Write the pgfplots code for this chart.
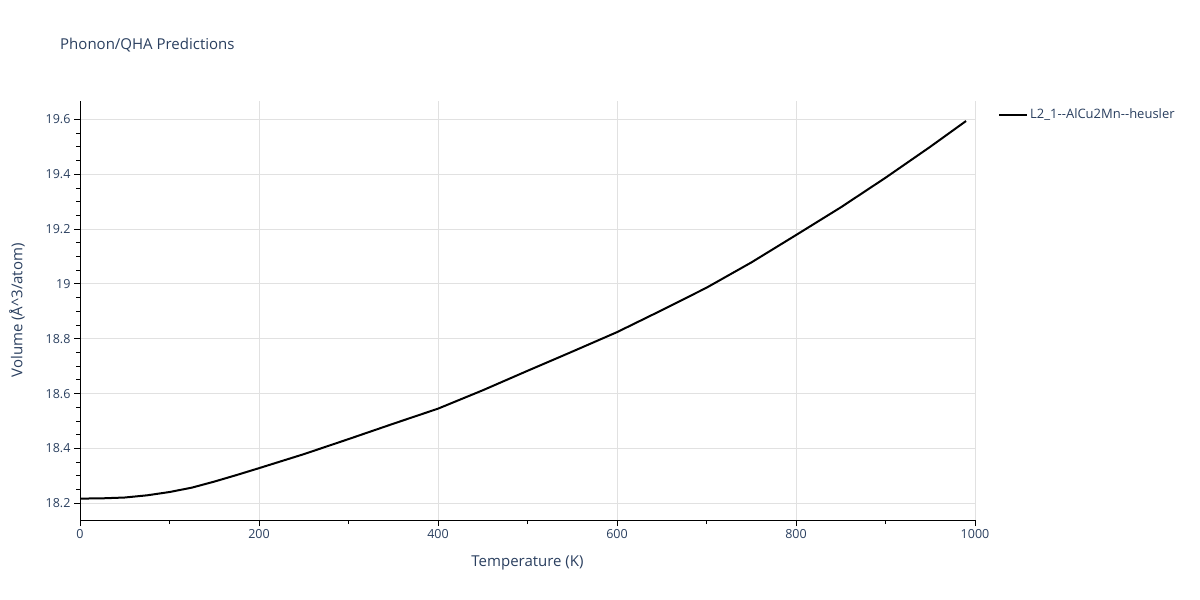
\documentclass[border=0pt]{standalone}
\usepackage{fontspec}
\setmainfont{Open Sans}
\usepackage{pgfplots}
\pgfplotsset{compat=1.18}
\definecolor{plotlytext}{HTML}{2A3F5F}
\definecolor{plotlygrid}{HTML}{E1E1E1}

\begin{document}
\begin{tikzpicture}
\useasboundingbox (0,0) rectangle (1200pt,600pt);
\node[anchor=west, text=plotlytext, font=\fontsize{15}{17}\selectfont, inner sep=0pt]
  at (60pt,555pt) {Phonon/QHA Predictions};

\begin{axis}[
    at={(80pt,80pt)}, anchor=south west,
    width=895pt, height=419.3pt, scale only axis,
    xmin=0, xmax=1000, ymin=18.139, ymax=19.668,
    xtick={0,200,400,600,800,1000},
    ytick={18.2,18.4,18.6,18.8,19,19.2,19.4,19.6},
    minor x tick num=1, minor y tick num=3,
    axis x line*=bottom, axis y line*=left,
    axis line style={black, line width=1pt, -},
    tick align=outside, major tick length=6pt, minor tick length=4pt,
    tick style={black, line width=0.8pt},
    grid=major, major grid style={plotlygrid, line width=1pt},
    ticklabel style={font=\fontsize{12.5}{14}\selectfont, text=plotlytext},
    /pgf/number format/assume math mode=true,
    /pgf/number format/1000 sep={},
    scaled ticks=false,
    xlabel={Temperature (K)},
    ylabel={Volume (Å\textasciicircum 3/atom)},
    label style={font=\fontsize{15}{17}\selectfont, text=plotlytext},
    xlabel style={at={(rel axis cs:0.5,-0.1025)}, anchor=center},
    ylabel style={at={(rel axis cs:-0.0704,0.5)}, anchor=center},
    legend style={at={(rel axis cs:1,1)}, anchor=north west, xshift=20pt, yshift=-4pt,
        draw=none, fill=none, font=\fontsize{13}{15}\selectfont, text=plotlytext},
    legend cell align=left,
    legend image code/.code={\draw[#1] (0pt,0pt) -- (28pt,0pt);},
]
\addplot[black, line width=2pt] coordinates {
(0,18.217) (25,18.218) (50,18.221) (75,18.229) (100,18.241) (125,18.257)
(150,18.279) (175,18.303) (200,18.328) (250,18.379) (300,18.434)
(350,18.490) (400,18.545) (450,18.612) (500,18.683) (550,18.753)
(600,18.824) (650,18.904) (700,18.986) (750,19.078) (800,19.178)
(850,19.279) (900,19.387) (950,19.500) (990,19.594)
};
\addlegendentry{L2\_1-{}-AlCu2Mn-{}-heusler}
\end{axis}
\end{tikzpicture}
\end{document}
